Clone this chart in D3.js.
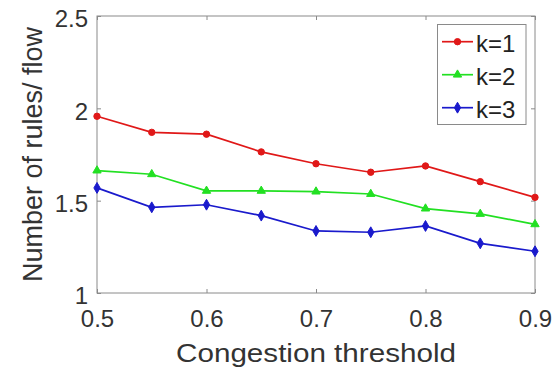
<!DOCTYPE html>
<html><head><meta charset="utf-8">
<script src="https://cdn.jsdelivr.net/npm/d3@7"></script>
<style>body{margin:0;background:#fff;}svg{display:block;font-family:Arial,"Liberation Sans",sans-serif;}</style>
</head><body><svg id="c" width="553" height="373"></svg>
<script>
const thresholds = [0.5,0.55,0.6,0.65,0.7,0.75,0.8,0.85,0.9];
const k1 = [1.957,1.87,1.86,1.764,1.70,1.654,1.688,1.603,1.518];
const k2 = [1.663,1.643,1.553,1.553,1.549,1.536,1.457,1.428,1.372];
const k3 = [1.569,1.464,1.478,1.419,1.336,1.329,1.363,1.269,1.226];
const seriesNames = ["k=1","k=2","k=3"];
const xTicks = [0.5,0.6,0.7,0.8,0.9];
const yTicks = [1,1.5,2,2.5];

const svg = d3.select("#c");
const L=97,R=535,T=16,B=293;
const x = d3.scaleLinear().domain([0.5,0.9]).range([L,R]);
const y = d3.scaleLinear().domain([1,2.5]).range([B,T]);
const axisCol="#8a8a8a", textCol="#333";

svg.append("rect").attr("x",L).attr("y",T).attr("width",R-L).attr("height",B-T)
  .attr("fill","none").attr("stroke",axisCol).attr("stroke-width",1);

const gx = svg.append("g").attr("transform",`translate(0,${B})`)
  .call(d3.axisBottom(x).tickValues(xTicks).tickSize(-4).tickFormat(d3.format(".1f")));
const gx2 = svg.append("g").attr("transform",`translate(0,${T})`)
  .call(d3.axisTop(x).tickValues(xTicks).tickSize(-4).tickFormat(""));
const gy = svg.append("g").attr("transform",`translate(${L},0)`)
  .call(d3.axisLeft(y).tickValues(yTicks).tickSize(-4).tickPadding(9).tickFormat(d=>d3.format("")(d)));
const gy2 = svg.append("g").attr("transform",`translate(${R},0)`)
  .call(d3.axisRight(y).tickValues(yTicks).tickSize(-4).tickFormat(""));
[gx,gx2,gy,gy2].forEach(g=>{
  g.select(".domain").remove();
  g.selectAll(".tick line").attr("stroke",axisCol);
  g.selectAll("text").attr("fill",textCol).style("font-size","24px").style("font-family","Arial, 'Liberation Sans', sans-serif");
});
gx.selectAll("text").attr("dy",0).attr("y",34);
gy.selectAll("text").attr("dy","0.45em");

svg.append("text").attr("transform",`translate(${(L+R)/2},362) scale(1.14,1)`).attr("text-anchor","middle")
  .attr("fill",textCol).style("font-size","26px").text("Congestion threshold");
svg.append("text").attr("transform",`translate(42,${(T+B)/2}) rotate(-90)`).attr("text-anchor","middle")
  .attr("fill",textCol).style("font-size","27px").text("Number of rules/ flow");

const colors=["#e01818","#22e022","#1a1acc"];
const data=[k1,k2,k3];
const symbols=[d3.symbolCircle,d3.symbolTriangle,d3.symbolDiamond];
const sizes=[32,30,34];
const line=d3.line().x((d,i)=>x(thresholds[i])).y(d=>y(d));
data.forEach((vals,si)=>{
  svg.append("path").datum(vals).attr("d",line).attr("fill","none")
    .attr("stroke",colors[si]).attr("stroke-width",1.7);
  svg.selectAll(null).data(vals).enter().append("path")
    .attr("transform",(d,i)=>`translate(${x(thresholds[i])},${y(d)})`)
    .attr("d",d3.symbol().type(symbols[si]).size(sizes[si]))
    .attr("fill",colors[si]).attr("stroke",colors[si]).attr("stroke-width",1);
});

// legend
const lg=svg.append("g");
lg.append("rect").attr("x",437.5).attr("y",24.5).attr("width",88.5).attr("height",100)
  .attr("fill","#fff").attr("stroke",axisCol).attr("stroke-width",1);
seriesNames.forEach((n,i)=>{
  const yy=41.7+i*33;
  lg.append("line").attr("x1",442).attr("x2",473).attr("y1",yy).attr("y2",yy)
    .attr("stroke",colors[i]).attr("stroke-width",1.7);
  lg.append("path").attr("transform",`translate(457.5,${yy})`)
    .attr("d",d3.symbol().type(symbols[i]).size(sizes[i])).attr("fill",colors[i]).attr("stroke",colors[i]);
  lg.append("text").attr("x",476).attr("y",yy+10.5).attr("fill","#222")
    .style("font-size","24px").text(n);
});
</script></body></html>
